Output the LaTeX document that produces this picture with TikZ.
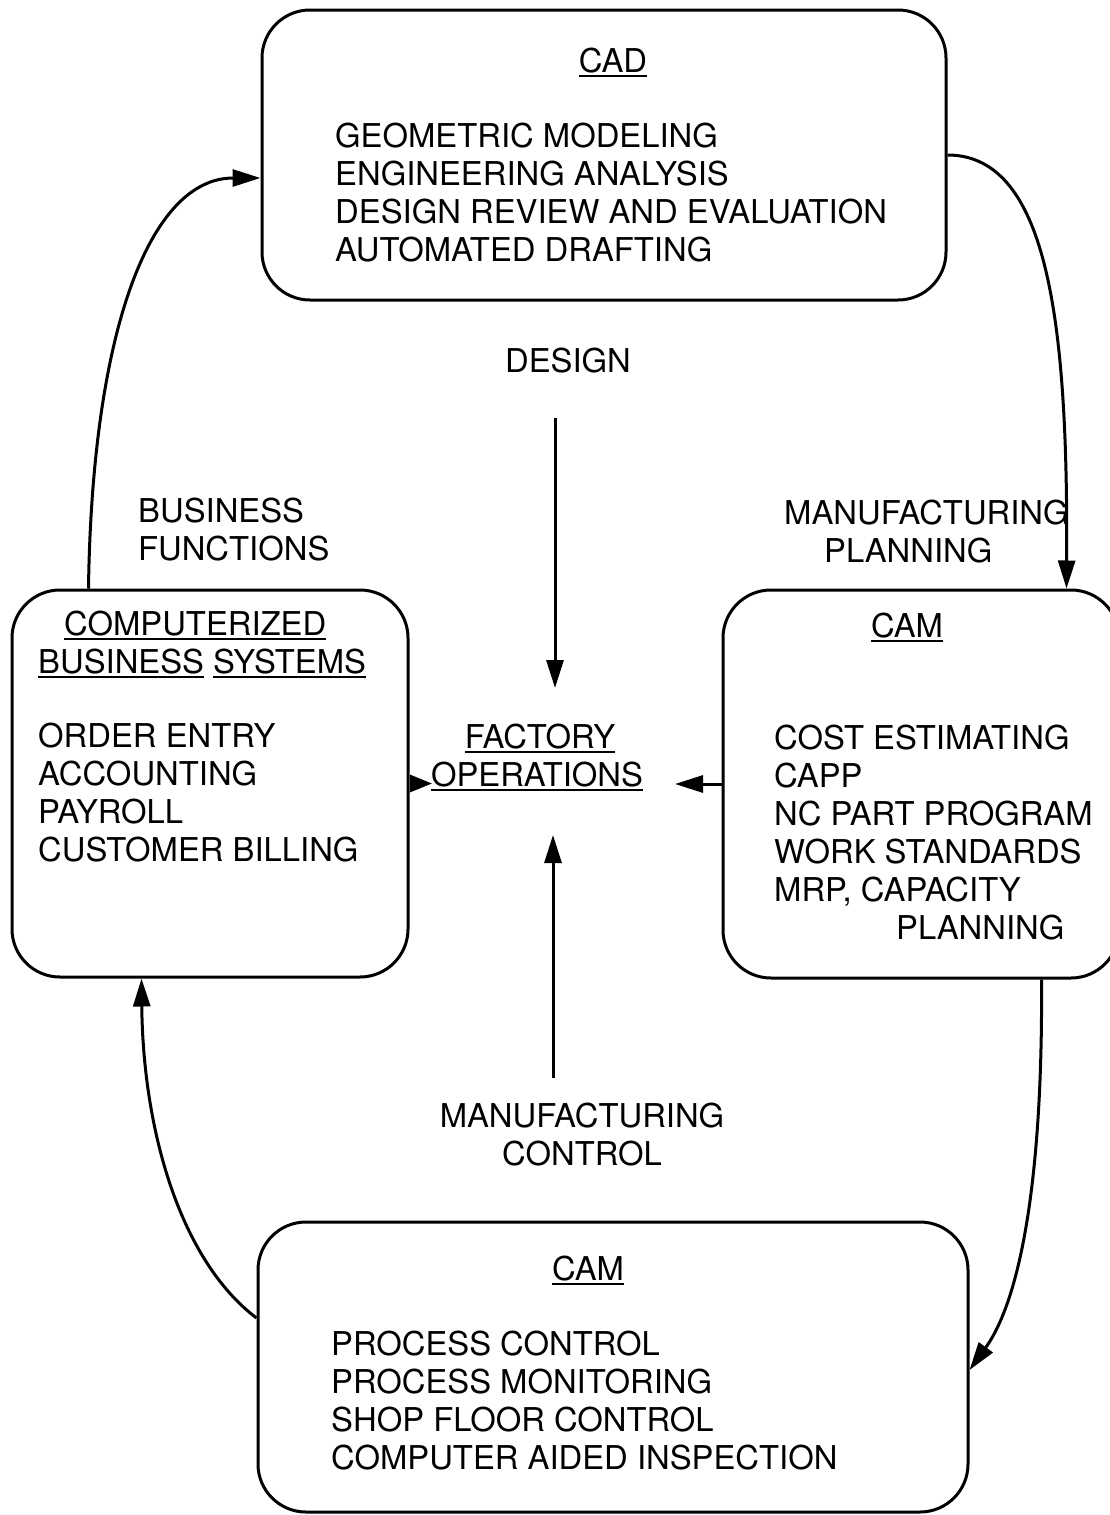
\documentclass[tikz,border=0pt]{standalone}
\usepackage{fontspec}
\setmainfont{TeX Gyre Heros}
\usetikzlibrary{arrows.meta}
\newcommand\myul[1]{\setbox0\hbox{#1}\rlap{\rule[-5pt]{\wd0}{2.4pt}}\box0\relax}
\begin{document}
\begin{tikzpicture}[x=1pt,y=-1pt,
  box/.style={draw, line width=3pt, rounded corners=48pt, inner sep=0pt},
  txt/.style={font=\fontsize{32.8}{38}\selectfont, inner sep=0pt, align=left},
  arr/.style={-{Triangle[length=28pt,width=17pt]}, line width=3pt},
  sarr/.style={-{Triangle[length=22pt,width=17pt]}, line width=3pt}]
\useasboundingbox (0,0) rectangle (1109,1515);
% boxes
\node[box, minimum width=684pt, minimum height=290pt] (cad) at (604,155) {};
\node[box, minimum width=396pt, minimum height=387pt] (biz) at (210,783.5) {};
\node[box, minimum width=396pt, minimum height=388pt] (cam1) at (921,784) {};
\node[box, minimum width=710pt, minimum height=290pt] (cam2) at (613,1367) {};
% texts
\node[txt, anchor=base] (cadt) at (613,72) {\myul{CAD}};
\node[txt, anchor=north west] (cadl) at (335,123) {GEOMETRIC MODELING\\ENGINEERING ANALYSIS\\DESIGN REVIEW AND EVALUATION\\AUTOMATED DRAFTING};
\node[txt, anchor=base] (design) at (568,372) {DESIGN};
\node[txt, anchor=north west] (busf) at (138,498) {BUSINESS\\FUNCTIONS};
\node[txt, anchor=north west] (mfgp) at (784,500) {MANUFACTURING\\\hspace*{40pt}PLANNING};
\node[txt, anchor=base west] (bizt1) at (64,635) {\myul{COMPUTERIZED}};
\node[txt, anchor=base west] (bizt2) at (38,673) {\myul{BUSINESS} \myul{SYSTEMS}};
\node[txt, anchor=north west] (bizl) at (38,723) {ORDER ENTRY\\ACCOUNTING\\PAYROLL\\CUSTOMER BILLING};
\node[txt, anchor=base] (fact1) at (540,748) {\myul{FACTORY}};
\node[txt, anchor=base] (fact2) at (537,786) {\myul{OPERATIONS}};
\node[txt, anchor=base] (cam1t) at (907,637) {\myul{CAM}};
\node[txt, anchor=north west] (cam1l) at (774,725) {COST ESTIMATING\\CAPP\\NC PART PROGRAM\\WORK STANDARDS\\MRP, CAPACITY\\\hspace*{122pt}PLANNING};
\node[txt, anchor=north, align=center] (mfgc) at (582,1103) {MANUFACTURING\\CONTROL};
\node[txt, anchor=base] (cam2t) at (588,1280) {\myul{CAM}};
\node[txt, anchor=north west] (cam2l) at (331,1331) {PROCESS CONTROL\\PROCESS MONITORING\\SHOP FLOOR CONTROL\\COMPUTER AIDED INSPECTION};
% connectors
\draw[arr] ([xshift=78pt]biz.north west) .. controls (92,330) and (150,178) .. ([yshift=-23pt]cad.west);
\draw[arr] (cad.east) .. controls (1050,155) and (1068,330) .. ([xshift=345pt]cam1.north west);
\draw[arr] ([xshift=320pt]cam1.south west) .. controls (1043,1180) and (1020,1300) .. ([yshift=-3pt]cam2.east);
\draw[arr] ([yshift=49pt]cam2.west) .. controls (180,1260) and (143,1130) .. ([xshift=131pt]biz.south west);
\coordinate (dtop) at (555,418);
\coordinate (dbot) at (555,688);
\draw[arr] (dtop) -- (dbot);
\coordinate (mbot) at (553,1078);
\coordinate (mtop) at (553,835);
\draw[arr] (mbot) -- (mtop);
\coordinate (fr) at (675,784);
\draw[arr] (cam1.west) -- (fr);
\coordinate (fl) at (432,783.5);
\draw[sarr] (biz.east) -- (fl);
\end{tikzpicture}
\end{document}
